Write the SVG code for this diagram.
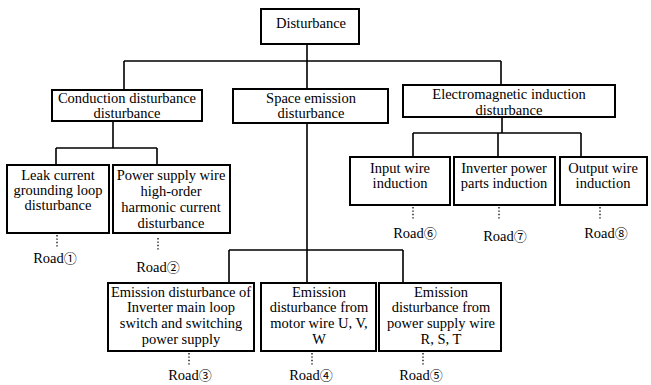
<svg xmlns="http://www.w3.org/2000/svg" width="651" height="385" viewBox="0 0 651 385">
<style>
.box{fill:#fff;stroke:#000;stroke-width:2}
.ln{fill:none;stroke:#000;stroke-width:1.6}
.dot{fill:none;stroke:#000;stroke-width:1.3;stroke-dasharray:1.4 2}
text{font-family:'Liberation Serif',serif;font-size:14.5px;fill:#000;text-anchor:middle}
.cj{font-family:'Noto Sans CJK SC',sans-serif;font-size:13px}
</style>
<rect width="651" height="385" fill="#fff"/>
<g id="connectors">
<path class="ln" d="M307 44V61M124 61H501M124 61V90M307 61V89M501 61V85"/>
<path class="ln" d="M113 121V148M56 148H157M56 148V165M157 148V165"/>
<path class="ln" d="M502 117V133M413 133H581M413 133V157M498 133V157M581 133V157"/>
<path class="ln" d="M307 123V250M229 250H403M229 250V283M307 250V283M403 250V283"/>
<path class="dot" d="M57 235V248M158 238V251M413 207V220M499 207V220M600 207V220M189 353V366M312 353V366M423 353V366"/>
</g>
<g id="n0"><rect class="box" x="261" y="9" width="98" height="35"/><text x="311" y="28">Disturbance</text></g>
<g id="n1"><rect class="box" x="52" y="90" width="150" height="31"/><text x="127" y="103">Conduction disturbance</text><text x="127" y="118">disturbance</text></g>
<g id="n2"><rect class="box" x="233" y="89" width="155" height="34"/><text x="311" y="103">Space emission</text><text x="311" y="118">disturbance</text></g>
<g id="n3"><rect class="box" x="403" y="85" width="212" height="32"/><text x="509" y="99">Electromagnetic induction</text><text x="509" y="115">disturbance</text></g>
<g id="n4"><rect class="box" x="7" y="165" width="102" height="68"/><text x="58" y="180">Leak current</text><text x="58" y="195">grounding loop</text><text x="58" y="210">disturbance</text></g>
<g id="n5"><rect class="box" x="113" y="165" width="117" height="68"/><text x="171" y="180">Power supply wire</text><text x="171" y="196">high-order</text><text x="171" y="212">harmonic current</text><text x="171" y="228">disturbance</text></g>
<g id="n6"><rect class="box" x="350" y="157" width="100" height="48"/><text x="400" y="173">Input wire</text><text x="400" y="188">induction</text></g>
<g id="n7"><rect class="box" x="454" y="157" width="101" height="48"/><text x="504" y="173">Inverter power</text><text x="504" y="188">parts induction</text></g>
<g id="n8"><rect class="box" x="560" y="157" width="87" height="48"/><text x="603" y="173">Output wire</text><text x="603" y="188">induction</text></g>
<g id="n9"><rect class="box" x="108" y="283" width="146" height="68"/><text x="181" y="297">Emission disturbance of</text><text x="181" y="312">Inverter main loop</text><text x="181" y="328">switch and switching</text><text x="181" y="344">power supply</text></g>
<g id="n10"><rect class="box" x="261" y="283" width="115" height="68"/><text x="319" y="297">Emission</text><text x="319" y="312">disturbance from</text><text x="319" y="328">motor wire U, V,</text><text x="319" y="344">W</text></g>
<g id="n11"><rect class="box" x="379" y="283" width="122" height="68"/><text x="441" y="297">Emission</text><text x="441" y="312">disturbance from</text><text x="441" y="328">power supply wire</text><text x="441" y="344">R, S, T</text></g>
<g id="roads">
<text x="55" y="263">Road<tspan class="cj">①</tspan></text>
<text x="158" y="272">Road<tspan class="cj">②</tspan></text>
<text x="190" y="380">Road<tspan class="cj">③</tspan></text>
<text x="311" y="380">Road<tspan class="cj">④</tspan></text>
<text x="421" y="380">Road<tspan class="cj">⑤</tspan></text>
<text x="415" y="238">Road<tspan class="cj">⑥</tspan></text>
<text x="505" y="241">Road<tspan class="cj">⑦</tspan></text>
<text x="606" y="238">Road<tspan class="cj">⑧</tspan></text>
</g>
</svg>
